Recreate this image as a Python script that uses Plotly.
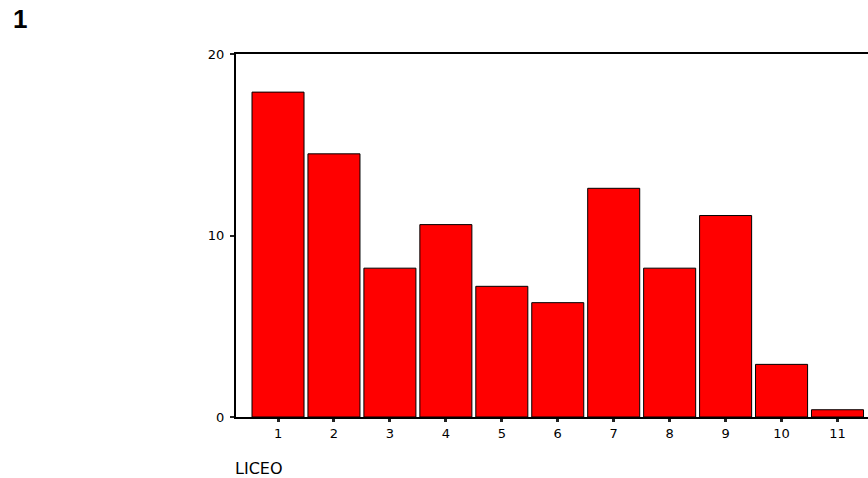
import plotly.graph_objects as go

categories = ["1", "2", "3", "4", "5", "6", "7", "8", "9", "10", "11"]
positions = [1, 2, 3, 4, 5, 6, 7, 8, 9, 10, 11]
percents = [17.9, 14.5, 8.2, 10.6, 7.2, 6.3, 12.6, 8.2, 11.1, 2.9, 0.4]
y_ticks = [0, 10, 20]
x_title = "LICEO"
panel_label = "1"

W, H = 868, 478
L, R, T, B = 236, 0, 54, 61
pw, ph = W - L - R, H - T - B

def px_x(px):
    return (px - L) / pw

def px_y(py):
    return (H - B - py) / ph

fig = go.Figure()
fig.add_trace(go.Bar(
    x=positions, y=percents, width=0.93,
    marker=dict(color="#ff0000", line=dict(color="black", width=1)),
    hoverinfo="skip",
))

tick_font = dict(family="DejaVu Sans", size=13, color="black")
fig.update_layout(
    width=W, height=H,
    margin=dict(l=L, r=R, t=T, b=B, autoexpand=False),
    paper_bgcolor="white", plot_bgcolor="white",
    showlegend=False,
    xaxis=dict(
        range=[0.249, 11.545], tickmode="array", tickvals=positions, ticktext=categories,
        showgrid=False, zeroline=False, showline=True, linecolor="black", linewidth=2,
        mirror=True, ticks="outside", ticklen=3, tickwidth=3, tickcolor="#222",
        tickfont=tick_font,
    ),
    yaxis=dict(
        range=[0, 20], tickmode="array", tickvals=y_ticks,
        showgrid=False, zeroline=False, showline=True, linecolor="black", linewidth=2,
        mirror=False, ticks="outside", ticklen=4, tickwidth=2, tickcolor="#222",
        tickfont=tick_font, ticklabelstandoff=3,
    ),
    annotations=[
        dict(text=panel_label, xref="paper", yref="paper", x=px_x(11), y=px_y(19.5),
             xanchor="left", yanchor="middle", showarrow=False,
             font=dict(family="Liberation Sans", size=26, color="black", weight="bold")),
        dict(text=x_title, xref="paper", yref="paper", x=px_x(233), y=px_y(468),
             xanchor="left", yanchor="middle", showarrow=False,
             font=dict(family="DejaVu Sans", size=16, color="black")),
    ],
)

fig.write_html(
    "out.html",
    config={"displayModeBar": False},
    post_script="document.body.style.margin='0';document.body.style.overflow='hidden';",
)
